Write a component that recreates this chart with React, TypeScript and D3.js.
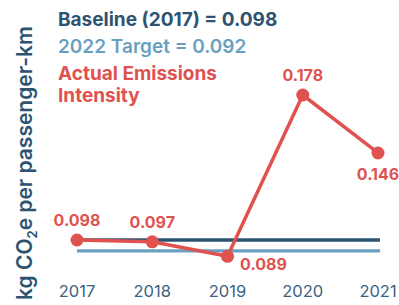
import { useEffect, useRef } from 'react'
import * as d3 from 'd3'

const years = ['2017', '2018', '2019', '2020', '2021']
const actual = [0.098, 0.097, 0.089, 0.178, 0.146]
const baseline = 0.098
const target = 0.092
const legendLines = [
  { text: 'Baseline (2017) = 0.098', color: '#2c5472', weight: 700 },
  { text: '2022 Target = 0.092', color: '#6aa0bf', weight: 600 },
  { text: 'Actual Emissions', color: '#e0524f', weight: 700 },
  { text: 'Intensity', color: '#e0524f', weight: 700 }
]
// label placement: 'above' | 'below' | 'right'
const labelPos = ['above', 'above', 'right', 'above', 'below']

const DARK = '#2c5472'
const LIGHT = '#6aa0bf'
const RED = '#e0524f'
const FONT = 'Inter, "Noto Sans", sans-serif'

export default function App() {
  const svgRef = useRef<SVGSVGElement>(null)
  const width = 399
  const height = 305

  useEffect(() => {
    if (!svgRef.current) return
    const svg = d3.select(svgRef.current)
    svg.selectAll('*').remove()

    const x = d3.scalePoint<string>().domain(years).range([77, 378])
    const y = d3.scaleLinear().domain([0.08, 0.21]).range([272.6, 37])

    // reference lines
    svg.append('line')
      .attr('x1', x('2017')!).attr('x2', x('2021')! + 2)
      .attr('y1', y(target)).attr('y2', y(target))
      .attr('stroke', LIGHT).attr('stroke-width', 3.3)
    svg.append('line')
      .attr('x1', x('2017')!).attr('x2', x('2021')! + 2)
      .attr('y1', y(baseline)).attr('y2', y(baseline))
      .attr('stroke', DARK).attr('stroke-width', 3.3)

    // x axis labels
    svg.append('g')
      .selectAll('text')
      .data(years)
      .enter()
      .append('text')
      .attr('x', d => x(d)!)
      .attr('y', 297)
      .attr('text-anchor', 'middle')
      .attr('font-family', FONT)
      .attr('font-size', 16.5)
      .attr('fill', '#3a6282')
      .text(d => d)

    // actual line
    const line = d3.line<number>()
      .x((_, i) => x(years[i])!)
      .y(d => y(d))
    svg.append('path')
      .datum(actual)
      .attr('d', line)
      .attr('fill', 'none')
      .attr('stroke', RED)
      .attr('stroke-width', 3.5)
      .attr('stroke-linejoin', 'round')

    svg.selectAll('circle.pt')
      .data(actual)
      .enter()
      .append('circle')
      .attr('class', 'pt')
      .attr('cx', (_, i) => x(years[i])!)
      .attr('cy', d => y(d))
      .attr('r', 6.5)
      .attr('fill', RED)

    svg.selectAll('text.val')
      .data(actual)
      .enter()
      .append('text')
      .attr('class', 'val')
      .attr('x', (_, i) => x(years[i])! + (labelPos[i] === 'right' ? 36 : 0))
      .attr('y', (d, i) => y(d) + (labelPos[i] === 'above' ? -14 : labelPos[i] === 'below' ? 27 : 14))
      .attr('text-anchor', 'middle')
      .attr('font-family', FONT)
      .attr('font-weight', 700)
      .attr('font-size', 16)
      .attr('fill', RED)
      .text(d => d.toFixed(3))

    // legend text
    svg.selectAll('text.leg')
      .data(legendLines)
      .enter()
      .append('text')
      .attr('class', 'leg')
      .attr('x', 58)
      .attr('y', (_, i) => [26, 53, 80, 101.5][i])
      .attr('font-family', FONT)
      .attr('font-size', 19)
      .attr('font-weight', d => d.weight)
      .attr('fill', d => d.color)
      .text(d => d.text)

    // y axis title
    const title = svg.append('text')
      .attr('transform', 'translate(32,300) rotate(-90)')
      .attr('font-family', FONT)
      .attr('font-size', 21)
      .attr('font-weight', 600)
      .attr('fill', DARK)
    title.append('tspan').text('kg CO')
    title.append('tspan').attr('font-size', 13).attr('dy', 5).text('2')
    title.append('tspan').attr('dy', -5).text('e per passenger-km')
  }, [])

  return (
    <svg
      ref={svgRef}
      width={width}
      height={height}
      style={{ position: 'absolute', left: 0, top: 0, background: '#fff' }}
    />
  )
}
